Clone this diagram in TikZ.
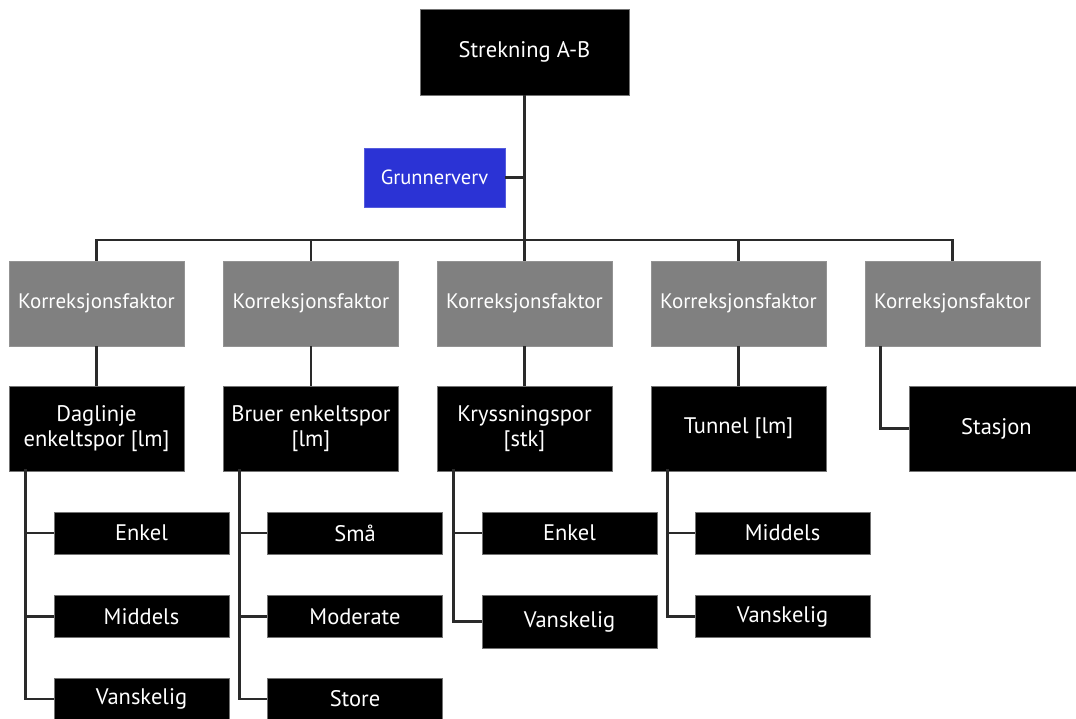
\documentclass[tikz,border=0pt]{standalone}
\usepackage{fontspec}
\setmainfont{PT Sans}
\usepackage{tikz}
\usetikzlibrary{positioning,calc}
\definecolor{korr}{HTML}{808080}
\definecolor{grunn}{HTML}{2B33D5}
\definecolor{wire}{HTML}{2A2A2A}

\begin{document}
\begin{tikzpicture}[x=1pt,y=-1pt,
    box/.style={fill=black,text=white,draw=black!55,line width=0.6pt,minimum width=175pt,
      minimum height=85pt,align=center,inner sep=0pt,font=\fontsize{22.5}{25}\selectfont},
    korrbox/.style={box,fill=korr,draw=korr!85,font=\fontsize{21}{24}\selectfont},
    leaf/.style={box,minimum height=42pt},
    link/.style={draw=wire,line width=2.7pt}]
  \clip (0,0) rectangle (1076,718);
  \fill[white] (0,0) rectangle (1076,718);

  % top and land purchase
  \node[box,minimum width=209pt,minimum height=86pt] (top) at (524.5,52) {Strekning A-B};
  \node[box,fill=grunn,draw=grunn!80,minimum width=141pt,minimum height=59pt,
    font=\fontsize{20.5}{24}\selectfont] (grunn) at (434.5,177.5) {Grunnerverv};

  % correction factors
  \foreach \i/\x in {1/96.5, 2/311, 3/524.5, 4/738.5, 5/952.5}
    \node[korrbox] (k\i) at (\x,303.5) {Korreksjonsfaktor};

  % elements
  \node[box] (d1) at (96.5,428.5) {Daglinje\\enkeltspor {[lm]}};
  \node[box] (d2) at (311,428.5) {Bruer enkeltspor\\{[lm]}};
  \node[box] (d3) at (524.5,428.5) {Kryssningspor\\{[stk]}};
  \node[box] (d4) at (738.5,428.5) {Tunnel {[lm]}};
  \node[box] (d5) at (996.5,428.5) {Stasjon};

  % levels
  \node[leaf] (l11) at (141.5,533) {Enkel};
  \node[leaf] (l12) at (141.5,616.5) {Middels};
  \node[leaf] (l13) at (141.5,699) {Vanskelig};
  \node[leaf] (l21) at (355,533) {Små};
  \node[leaf] (l22) at (355,616.5) {Moderate};
  \node[leaf] (l23) at (355,699) {Store};
  \node[leaf] (l31) at (569.5,533) {Enkel};
  \node[leaf,minimum height=53pt] (l32) at (569.5,621.5) {Vanskelig};
  \node[leaf] (l41) at (782.5,533) {Middels};
  \node[leaf] (l42) at (782.5,616.5) {Vanskelig};

  % connectors
  \coordinate (bar) at (524.5,240);
  \draw[link] (top) -- (k3);
  \draw[link] (grunn.east) -- (grunn.east -| top.south);
  \draw[link] (k1.north) |- (bar) -| (k5.north);
  \draw[link] (k2.north) -- (k2.north |- bar);
  \draw[link] (k4.north) -- (k4.north |- bar);
  \foreach \i in {1,2,3,4}
    \draw[link] (k\i) -- (d\i);
  \draw[link] ([xshift=16pt]k5.south west) |- (d5.west);
  \foreach \i/\j in {1/1, 1/2, 1/3, 2/1, 2/2, 2/3, 3/1, 3/2, 4/1, 4/2}
    \draw[link] ([xshift=16.5pt,yshift=2pt]d\i.south west) |- (l\i\j.west);
\end{tikzpicture}
\end{document}
